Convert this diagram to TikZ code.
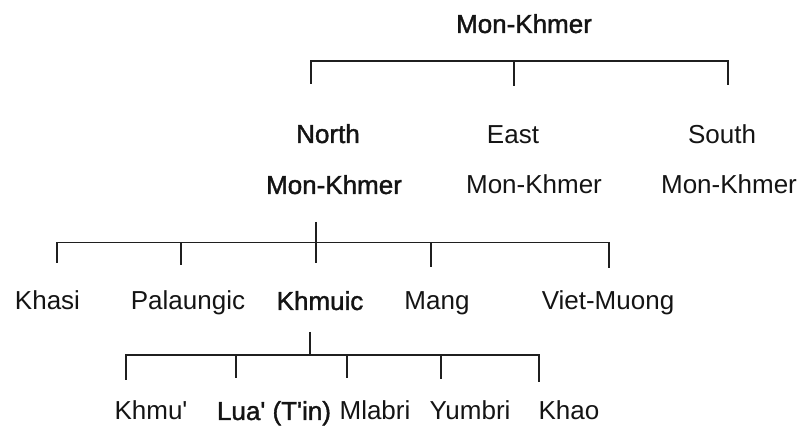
\documentclass[tikz,border=0pt]{standalone}
\usepackage{fontspec}
\setmainfont{Liberation Sans}[Ligatures=TeXOff]
\newfontfamily\heavyface{Liberation Sans}[FakeBold=1.4,Ligatures=TeXOff]
\begin{document}
\begin{tikzpicture}[x=1pt,y=-1pt,
  lbl/.style={anchor=base,inner sep=0pt,font=\fontsize{26}{30}\selectfont,text=black!92},
  hlbl/.style={lbl,font=\fontsize{26}{30}\selectfont\heavyface},
  branch/.style={draw=black!88,line width=1.8pt,line join=miter}]
\useasboundingbox (0,0) rectangle (804,427);

% ---- labels ----
\node[hlbl] (mk)     at (524,33)  {Mon-Khmer};
\node[hlbl] (nmkA)   at (328,143) {North};
\node[hlbl] (nmkB)   at (334,194) {Mon-Khmer};
\node[lbl]  (emkA)   at (513,144) {East};
\node[lbl]  (emkB)   at (534,194) {Mon-Khmer};
\node[lbl]  (smkA)   at (722,144) {South};
\node[lbl]  (smkB)   at (729,194) {Mon-Khmer};

\node[lbl]  (khasi)  at (47.5,310) {Khasi};
\node[lbl]  (palau)  at (188,310)  {Palaungic};
\node[hlbl] (khmuic) at (320,310)  {Khmuic};
\node[lbl]  (mang)   at (437,310)  {Mang};
\node[lbl]  (viet)   at (608,310)  {Viet-Muong};

\node[lbl]  (khmu)   at (151,420)  {Khmu'};
\node[hlbl] (lua)    at (274,420)  {Lua' (T'in)};
\node[lbl]  (mlabri) at (375,420)  {Mlabri};
\node[lbl]  (yumbri) at (470,420)  {Yumbri};
\node[lbl]  (khao)   at (569,420)  {Khao};

% ---- Mon-Khmer branches ----
\coordinate (aN) at (311,84);
\coordinate (aE) at (514,86);
\coordinate (aS) at (728,85);
\coordinate (aBar) at (514,61);
\draw[branch] (aN) |- (aBar) -| (aS);
\draw[branch] (aBar) -- (aE);

% ---- North Mon-Khmer branches ----
\coordinate (bTop) at (316,222);
\coordinate (bBar) at (316,242.5);
\coordinate (bKhasi) at (57,263);
\coordinate (bPalau) at (181,265);
\coordinate (bKhmuic) at (316,263);
\coordinate (bMang) at (431,267);
\coordinate (bViet) at (609,268);
\draw[branch] (bKhasi) |- (bBar) -| (bViet);
\draw[branch] (bTop) -- (bKhmuic);
\draw[branch] (bPalau) -- (bPalau |- bBar);
\draw[branch] (bMang) -- (bMang |- bBar);

% ---- Khmuic branches ----
\coordinate (cTop) at (310,332);
\coordinate (cBar) at (310,355);
\coordinate (cKhmu) at (126,380);
\coordinate (cLua) at (236,378);
\coordinate (cMlabri) at (347,378);
\coordinate (cYumbri) at (441,379);
\coordinate (cKhao) at (539,382);
\draw[branch] (cKhmu) |- (cBar) -| (cKhao);
\draw[branch] (cTop) -- (cBar);
\draw[branch] (cLua) -- (cLua |- cBar);
\draw[branch] (cMlabri) -- (cMlabri |- cBar);
\draw[branch] (cYumbri) -- (cYumbri |- cBar);
\end{tikzpicture}
\end{document}
